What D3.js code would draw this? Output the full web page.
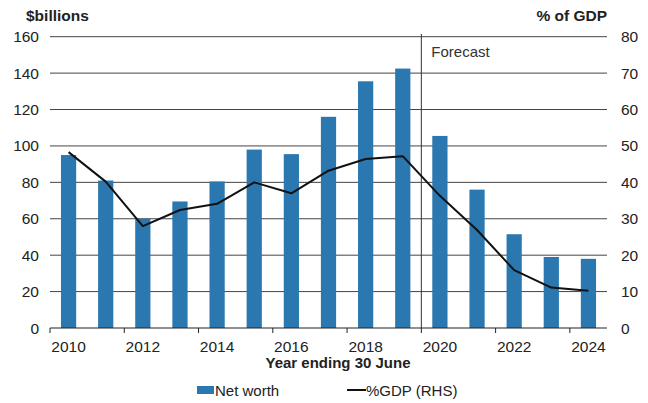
<!DOCTYPE html>
<html><head><meta charset="utf-8">
<script src="https://cdn.jsdelivr.net/npm/d3@7"></script>
<style>body{margin:0;background:#fff}svg{display:block;font-family:"Liberation Sans",Arial,sans-serif}</style>
</head><body><svg id="c" width="648" height="403"></svg>
<script>
const years = [2010,2011,2012,2013,2014,2015,2016,2017,2018,2019,2020,2021,2022,2023,2024];
const netWorth = [95,81,60,69.5,80.5,98,95.5,116,135.5,142.5,105.5,76,51.5,39,38];
const pctGDP = [48.3,40.2,28,32.4,34.1,40,37,43.2,46.4,47.2,36.3,26.9,15.9,11.1,10.2];
const leftTicks = [0,20,40,60,80,100,120,140,160];
const rightTicks = [0,10,20,30,40,50,60,70,80];
const xLabels = [2010,2012,2014,2016,2018,2020,2022,2024];
const forecastStart = 2020;

const svg = d3.select("#c");
const L = 50, R = 607, T = 36.7, B = 328;
const x = d3.scaleBand().domain(years).range([L, R]).paddingInner(0.59).paddingOuter(0.295);
const xb = d3.scaleBand().domain(years).range([L, R]);
const yL = d3.scaleLinear().domain([0,160]).range([B, T]);
const yR = d3.scaleLinear().domain([0,80]).range([B, T]);
const grid = "#444";
const fs = 15.5;

// gridlines
svg.append("g").selectAll("line").data(leftTicks.filter(d=>d>0)).join("line")
  .attr("x1", L).attr("x2", R).attr("y1", d=>yL(d)).attr("y2", d=>yL(d))
  .attr("stroke", grid).attr("stroke-width", 1);

// bars
svg.append("g").selectAll("rect").data(years).join("rect")
  .attr("x", d=>x(d)).attr("width", x.bandwidth())
  .attr("y", (d,i)=>yL(netWorth[i])).attr("height", (d,i)=>B - yL(netWorth[i]))
  .attr("fill", "#2b78b0");

// forecast line
const fx = xb(forecastStart);
svg.append("line").attr("x1", fx).attr("x2", fx).attr("y1", 34).attr("y2", B)
  .attr("stroke", "#333").attr("stroke-width", 1);
svg.append("text").attr("x", fx + 10).attr("y", 57).text("Forecast")
  .attr("font-size", 15).attr("fill", "#333");

// line
const line = d3.line().x((d,i)=>xb(years[i]) + xb.bandwidth()/2).y(d=>yR(d));
svg.append("path").attr("d", line(pctGDP)).attr("fill", "none")
  .attr("stroke", "#111").attr("stroke-width", 2).attr("stroke-linejoin", "round");

// x axis
const xa = svg.append("g").attr("transform", `translate(0,${B})`);
xa.append("line").attr("x1", L).attr("x2", R).attr("stroke", "#222").attr("stroke-width", 1.2);
const tickPos = d3.range(0, years.length + 1, 2).map(i => L + i * xb.step());
xa.selectAll("line.t").data(tickPos).join("line").attr("class","t")
  .attr("x1", d=>d).attr("x2", d=>d).attr("y1", 0).attr("y2", 5).attr("stroke", "#222");
xa.selectAll("text").data(xLabels).join("text")
  .attr("x", d=>xb(d) + xb.bandwidth()/2).attr("y", 24).attr("text-anchor", "middle")
  .attr("font-size", fs).attr("fill", "#222").text(d=>d);

// left axis labels
svg.append("g").selectAll("text").data(leftTicks).join("text")
  .attr("x", 39).attr("y", d=>yL(d) + 5.5).attr("text-anchor", "end")
  .attr("font-size", fs).attr("fill", "#222").text(d=>d);
// right axis labels
svg.append("g").selectAll("text").data(rightTicks).join("text")
  .attr("x", 621).attr("y", d=>yR(d) + 5.5).attr("text-anchor", "start")
  .attr("font-size", fs).attr("fill", "#222").text(d=>d);

// titles
svg.append("text").attr("x", 26).attr("y", 21).attr("font-size", 15.5).attr("font-weight", "bold")
  .attr("fill", "#222").text("$billions");
svg.append("text").attr("x", 607).attr("y", 21).attr("font-size", 15.5).attr("font-weight", "bold")
  .attr("text-anchor", "end").attr("fill", "#222").text("% of GDP");
svg.append("text").attr("x", 338).attr("y", 368).attr("font-size", 15).attr("font-weight", "bold")
  .attr("text-anchor", "middle").attr("fill", "#222").text("Year ending 30 June");

// legend
svg.append("rect").attr("x", 197).attr("y", 386).attr("width", 17).attr("height", 8).attr("fill", "#2b78b0");
svg.append("text").attr("x", 215).attr("y", 396).attr("font-size", 15).attr("fill", "#222").text("Net worth");
svg.append("line").attr("x1", 347).attr("x2", 366).attr("y1", 390).attr("y2", 390).attr("stroke", "#111").attr("stroke-width", 2);
svg.append("text").attr("x", 366).attr("y", 396).attr("font-size", 15).attr("font-weight", "normal").attr("fill", "#222").text("%GDP (RHS)");
</script></body></html>
